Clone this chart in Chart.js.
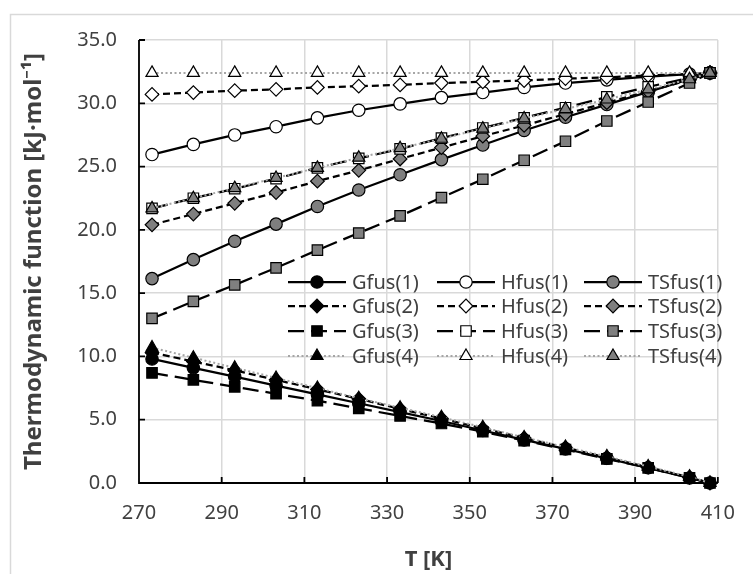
<!DOCTYPE html>
<html>
<head>
<meta charset="utf-8">
<title>Thermodynamic functions of fusion</title>
<script src="https://cdn.jsdelivr.net/npm/chart.js@4.4.1/dist/chart.umd.min.js"></script>
<style>
    html, body { margin: 0; padding: 0; background: #ffffff; }
    canvas { display: block; }
</style>
</head>
<body>
<canvas id="graficoFusion" width="753" height="574"></canvas>
<script>
// ==============================================================================
// 1. DATA
// ==============================================================================

const temperaturas = [273.15, 283.15, 293.15, 303.15, 313.15, 323.15, 333.15, 343.15,
                      353.15, 363.15, 373.15, 383.15, 393.15, 403.15, 408.1];

const gfus1  = [9.8, 9.1, 8.4, 7.7, 7.0, 6.3, 5.6, 4.9, 4.15, 3.4, 2.7, 1.95, 1.2, 0.4, 0];
const hfus1  = [25.95, 26.75, 27.5, 28.15, 28.85, 29.45, 29.95, 30.45, 30.85, 31.25, 31.6, 31.85, 32.1, 32.3, 32.4];
const tsfus1 = [16.15, 17.65, 19.1, 20.45, 21.85, 23.15, 24.35, 25.55, 26.7, 27.85, 28.9, 29.9, 30.9, 31.9, 32.4];

const gfus2  = [10.3, 9.6, 8.9, 8.15, 7.4, 6.65, 5.85, 5.1, 4.3, 3.55, 2.8, 2.0, 1.25, 0.45, 0];
const hfus2  = [30.7, 30.85, 31.0, 31.1, 31.25, 31.35, 31.45, 31.6, 31.7, 31.8, 31.95, 32.05, 32.2, 32.3, 32.4];
const tsfus2 = [20.4, 21.25, 22.1, 22.95, 23.85, 24.7, 25.6, 26.5, 27.4, 28.25, 29.15, 30.05, 30.95, 31.85, 32.4];

const gfus3  = [8.7, 8.15, 7.6, 7.05, 6.5, 5.9, 5.3, 4.7, 4.05, 3.35, 2.65, 1.9, 1.2, 0.4, 0];
const hfus3  = [21.7, 22.5, 23.25, 24.05, 24.9, 25.65, 26.4, 27.25, 28.05, 28.85, 29.65, 30.5, 31.3, 32.0, 32.4];
const tsfus3 = [13.0, 14.35, 15.65, 17.0, 18.4, 19.75, 21.1, 22.55, 24.0, 25.5, 27.0, 28.6, 30.1, 31.6, 32.4];

const gfus4  = [10.7, 9.9, 9.1, 8.3, 7.5, 6.7, 5.95, 5.2, 4.4, 3.6, 2.85, 2.1, 1.3, 0.5, 0];
const hfus4  = [32.4, 32.4, 32.4, 32.4, 32.4, 32.4, 32.4, 32.4, 32.4, 32.4, 32.4, 32.4, 32.4, 32.4, 32.4];
const tsfus4 = [21.7, 22.5, 23.3, 24.1, 24.9, 25.7, 26.45, 27.2, 28.0, 28.8, 29.55, 30.3, 31.1, 31.9, 32.4];

const ticksX = [270, 290, 310, 330, 350, 370, 390, 410];
const ticksY = [0, 5, 10, 15, 20, 25, 30, 35];

// label, values, line style (system 1..4), marker fill
const series = [
    ['Gfus(1)', gfus1, 0, 'G'], ['Hfus(1)', hfus1, 0, 'H'], ['TSfus(1)', tsfus1, 0, 'TS'],
    ['Gfus(2)', gfus2, 1, 'G'], ['Hfus(2)', hfus2, 1, 'H'], ['TSfus(2)', tsfus2, 1, 'TS'],
    ['Gfus(3)', gfus3, 2, 'G'], ['Hfus(3)', hfus3, 2, 'H'], ['TSfus(3)', tsfus3, 2, 'TS'],
    ['Gfus(4)', gfus4, 3, 'G'], ['Hfus(4)', hfus4, 3, 'H'], ['TSfus(4)', tsfus4, 3, 'TS']
];

// ==============================================================================
// 2. STYLES
// ==============================================================================

const estilos = [
    { color: '#000000', width: 2.25, dash: [],      shape: 'circle',   radius: 6.2 },
    { color: '#000000', width: 2.25, dash: [7, 4],  shape: 'rectRot',  radius: 6.8 },
    { color: '#000000', width: 2.25, dash: [16, 7], shape: 'rect',     radius: 7.4 },
    { color: '#a6a6a6', width: 2,    dash: [2, 2.5], shape: 'triangle', radius: 7 }
];
const rellenos = { G: '#000000', H: '#ffffff', TS: '#7f7f7f' };

Chart.defaults.font.family = "'Noto Sans', 'Open Sans', sans-serif";
Chart.defaults.color = '#404040';

// ==============================================================================
// 3. PLUGINS (background, frame, inner tick marks, legend inside the plot)
// ==============================================================================

const fondo = {
    id: 'fondo',
    beforeDraw(chart) {
        const ctx = chart.ctx;
        ctx.save();
        ctx.fillStyle = '#ffffff';
        ctx.fillRect(0, 0, chart.width, chart.height);
        ctx.strokeStyle = '#d9d9d9';
        ctx.lineWidth = 1.5;
        ctx.strokeRect(10.5, 14.5, 900, 800);
        ctx.restore();
    }
};

const ejes = {
    id: 'ejes',
    beforeDatasetsDraw(chart) {
        const { ctx, chartArea: a, scales: { x, y } } = chart;
        ctx.save();
        ctx.strokeStyle = '#000000';
        ctx.lineWidth = 1.8;
        ctx.beginPath();
        ctx.moveTo(a.left, a.top);
        ctx.lineTo(a.left, a.bottom);
        ctx.lineTo(a.right, a.bottom);
        y.ticks.forEach(t => {
            const py = y.getPixelForValue(t.value);
            ctx.moveTo(a.left, py);
            ctx.lineTo(a.left + 6, py);
        });
        x.ticks.forEach(t => {
            const px = x.getPixelForValue(t.value);
            ctx.moveTo(px, a.bottom);
            ctx.lineTo(px, a.bottom - 6);
        });
        ctx.stroke();
        ctx.restore();
    }
};

function dibujarMarcador(ctx, est, relleno, px, py) {
    ctx.fillStyle = relleno;
    ctx.strokeStyle = '#000000';
    ctx.lineWidth = 1.2;
    ctx.setLineDash([]);
    Chart.helpers.drawPoint(ctx, { pointStyle: est.shape, radius: est.radius, rotation: 0, borderWidth: 1.2 }, px, py);
}

const leyenda = {
    id: 'leyenda',
    afterDatasetsDraw(chart) {
        const ctx = chart.ctx;
        const columnas = [288, 437, 584];
        const filas = [282, 306, 331, 356];
        ctx.save();
        ctx.font = "20px 'Noto Sans', sans-serif";
        ctx.textBaseline = 'middle';
        series.forEach((s, i) => {
            const est = estilos[s[2]];
            const x0 = columnas[i % 3];
            const y0 = filas[Math.floor(i / 3)];
            ctx.strokeStyle = est.color;
            ctx.lineWidth = est.width;
            ctx.setLineDash(est.dash);
            ctx.beginPath();
            ctx.moveTo(x0, y0);
            ctx.lineTo(x0 + 58, y0);
            ctx.stroke();
            dibujarMarcador(ctx, est, rellenos[s[3]], x0 + 29, y0);
            ctx.fillStyle = '#404040';
            ctx.fillText(s[0], x0 + 64, y0 + 1);
        });
        ctx.restore();
    }
};

// ==============================================================================
// 4. CHART
// ==============================================================================

const datasets = series.map((s, i) => {
    const est = estilos[s[2]];
    return {
        label: s[0],
        data: temperaturas.map((t, k) => ({ x: t, y: s[1][k] })),
        borderColor: est.color,
        borderWidth: est.width,
        borderDash: est.dash,
        pointStyle: est.shape,
        pointRadius: est.radius,
        pointBackgroundColor: rellenos[s[3]],
        pointBorderColor: '#000000',
        pointBorderWidth: 1.2,
        tension: 0,
        fill: false,
        clip: false,
        order: series.length - i
    };
});

new Chart(document.getElementById('graficoFusion').getContext('2d'), {
    type: 'line',
    data: { datasets: datasets },
    plugins: [fondo, ejes, leyenda],
    options: {
        responsive: false,
        animation: false,
        layout: { padding: { left: 14, top: 40, right: 20, bottom: 0 } },
        plugins: {
            legend: { display: false },
            tooltip: { enabled: false }
        },
        scales: {
            x: {
                type: 'linear',
                min: 270,
                max: 410,
                afterBuildTicks: scale => { scale.ticks = ticksX.map(v => ({ value: v })); },
                afterFit: scale => { scale.height = 91; },
                grid: { color: '#d9d9d9', lineWidth: 1.5, drawTicks: false },
                border: { display: false },
                ticks: { padding: 18, font: { size: 20 }, color: '#404040' },
                title: {
                    display: true,
                    text: 'T [K]',
                    font: { size: 22, weight: 'bold' },
                    color: '#404040',
                    padding: { top: 0, bottom: 1 }
                }
            },
            y: {
                min: 0,
                max: 35,
                afterBuildTicks: scale => { scale.ticks = ticksY.map(v => ({ value: v })); },
                afterFit: scale => { scale.width = 125; },
                grid: { color: '#d9d9d9', lineWidth: 1.5, drawTicks: false },
                border: { display: false },
                ticks: {
                    padding: 22,
                    font: { size: 20 },
                    color: '#404040',
                    callback: value => value.toFixed(1)
                },
                title: {
                    display: true,
                    text: 'Thermodynamic function [kJ·mol⁻¹]',
                    font: { size: 24, weight: 'bold' },
                    color: '#404040',
                    padding: { top: 6, bottom: 0 }
                }
            }
        }
    }
});
</script>
</body>
</html>
